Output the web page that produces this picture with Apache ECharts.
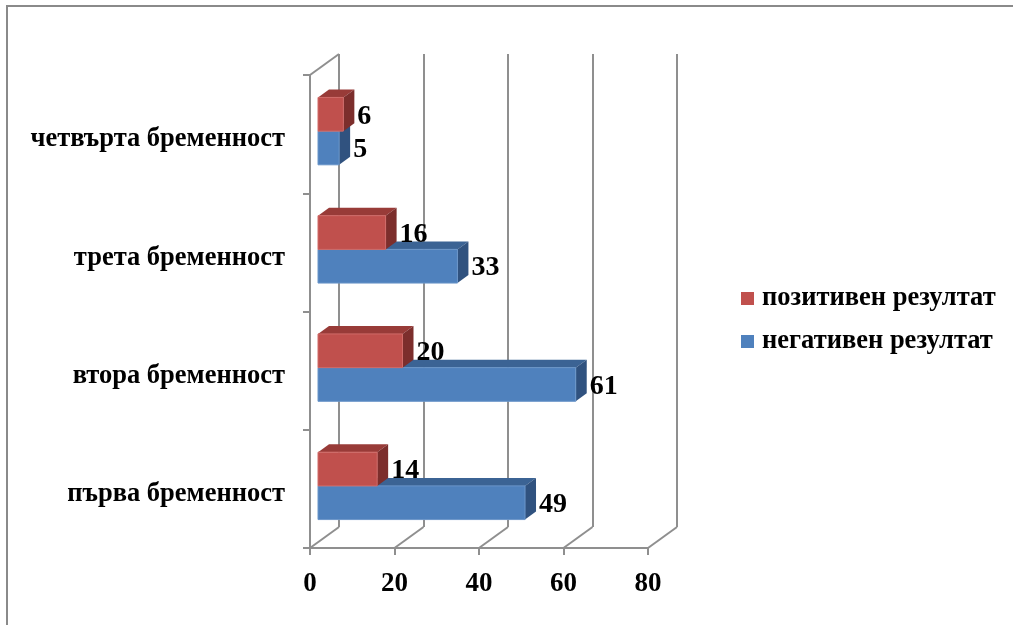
<!DOCTYPE html>
<html>
<head>
<meta charset="utf-8">
<script src="https://cdn.jsdelivr.net/npm/echarts@6/dist/echarts.min.js"></script>
<style>
  html, body { margin: 0; padding: 0; background: #fff; }
  #chart { width: 1013px; height: 625px; }
</style>
</head>
<body>
<div id="chart"></div>
<script>
// Pregnancy order (bottom to top) and test outcomes
const categories = ['първа бременност', 'втора бременност', 'трета бременност', 'четвърта бременност'];
const negativeValues = [49, 61, 33, 5];
const positiveValues = [14, 20, 16, 6];
const seriesNames = ['негативен резултат', 'позитивен резултат'];
const axisMin = 0, axisMax = 80, axisStep = 20;

// pseudo-3D geometry (pixels)
const WALL = { dx: 29, dy: -21 };   // depth from front floor edge to back wall
const BAR_SHIFT = { dx: 8, dy: -3 }; // front face of bars sits slightly inside the box
const BAR_DEPTH = { dx: 11, dy: -8 };
const BAR_RATIO = 0.285;
const FONT = '"Liberation Serif", "Times New Roman", serif';
const GRID_COLOR = '#8f8f8f';

const tickValues = [];
for (let v = axisMin; v <= axisMax; v += axisStep) tickValues.push(v);

function barRenderer(slot, colors) {
  return function (params, api) {
    const v = api.value(0), c = api.value(1);
    const base = api.coord([0, c]);
    const end = api.coord([v, c]);
    const band = api.size([0, 1])[1];
    const h = band * BAR_RATIO;
    const cy = base[1] + BAR_SHIFT.dy;
    const y0 = slot === 0 ? cy : cy - h;
    const x0 = base[0] + BAR_SHIFT.dx;
    const x1 = end[0] + BAR_SHIFT.dx;
    const dx = BAR_DEPTH.dx, dy = BAR_DEPTH.dy;
    return {
      type: 'group',
      children: [
        { type: 'polygon', shape: { points: [[x0, y0], [x1, y0], [x1 + dx, y0 + dy], [x0 + dx, y0 + dy]] },
          style: { fill: colors.top } },
        { type: 'polygon', shape: { points: [[x1, y0], [x1 + dx, y0 + dy], [x1 + dx, y0 + dy + h], [x1, y0 + h]] },
          style: { fill: colors.side } },
        { type: 'rect', shape: { x: x0, y: y0, width: x1 - x0, height: h },
          style: { fill: colors.front, stroke: colors.edge, lineWidth: 1 } },
        { type: 'text', x: x1 + dx + 3, y: y0 + h / 2 + 2,
          style: { text: String(v), fill: '#000', font: 'bold 28px ' + FONT,
                   textAlign: 'left', textVerticalAlign: 'middle' } }
      ]
    };
  };
}

function boxRenderer(params, api) {
  const v = api.value(0);
  const band = api.size([0, 1])[1];
  const p = api.coord([v, 0]);
  const bottom = p[1] + band / 2;
  const children = [
    { type: 'line', shape: { x1: p[0], y1: bottom, x2: p[0] + WALL.dx, y2: bottom + WALL.dy },
      style: { stroke: GRID_COLOR, lineWidth: 2 } }
  ];
  if (v === axisMin) {
    const topY = api.coord([v, categories.length - 1])[1] - band / 2;
    children.push({ type: 'line', shape: { x1: p[0], y1: topY, x2: p[0] + WALL.dx, y2: topY + WALL.dy },
      style: { stroke: GRID_COLOR, lineWidth: 2 } });
  }
  return { type: 'group', children: children };
}

const FRONT = { left: 310, top: 75, width: 338, height: 473 };

const chart = echarts.init(document.getElementById('chart'), null, { renderer: 'canvas' });
chart.setOption({
  backgroundColor: '#fff',
  animation: false,
  graphic: [
    { type: 'polyline', shape: { points: [[7, 640], [7, 6], [1030, 6]] },
      style: { stroke: '#8a8a8a', lineWidth: 2, fill: null } }
  ],
  legend: {
    orient: 'vertical',
    left: 741, top: 285,
    padding: 0,
    itemWidth: 13, itemHeight: 13, itemGap: 16,
    icon: 'rect',
    data: [seriesNames[1], seriesNames[0]],
    textStyle: { fontFamily: FONT, fontWeight: 'bold', fontSize: 26.5, color: '#000', padding: [2, 0, 0, 3] }
  },
  grid: [
    { left: FRONT.left + WALL.dx, top: FRONT.top + WALL.dy, width: FRONT.width, height: FRONT.height },
    { left: FRONT.left, top: FRONT.top, width: FRONT.width, height: FRONT.height }
  ],
  xAxis: [
    { gridIndex: 0, type: 'value', min: axisMin, max: axisMax, interval: axisStep,
      axisLine: { show: false }, axisTick: { show: false }, axisLabel: { show: false },
      splitLine: { show: true, lineStyle: { color: GRID_COLOR, width: 2 } } },
    { gridIndex: 1, type: 'value', min: axisMin, max: axisMax, interval: axisStep,
      axisLine: { show: true, lineStyle: { color: GRID_COLOR, width: 2 } },
      axisTick: { show: true, length: 7, lineStyle: { color: GRID_COLOR, width: 2 } },
      splitLine: { show: false },
      axisLabel: { margin: 23, color: '#000', fontFamily: FONT, fontWeight: 'bold', fontSize: 27 } }
  ],
  yAxis: [
    { gridIndex: 0, type: 'category', data: categories, show: false },
    { gridIndex: 1, type: 'category', data: categories,
      axisLine: { show: true, lineStyle: { color: GRID_COLOR, width: 2 } },
      axisTick: { show: true, length: 7, lineStyle: { color: GRID_COLOR, width: 2 } },
      axisLabel: { margin: 25, color: '#000', fontFamily: FONT, fontWeight: 'bold', fontSize: 26.5,
                   verticalAlign: 'top', lineHeight: 11 } }
  ],
  series: [
    { type: 'custom', name: 'box', xAxisIndex: 1, yAxisIndex: 1, silent: true,
      renderItem: boxRenderer, data: tickValues.map(v => [v, 0]), encode: { x: 0, y: 1 } },
    { type: 'custom', name: seriesNames[0], xAxisIndex: 1, yAxisIndex: 1, clip: false,
      itemStyle: { color: '#4f81bd' },
      renderItem: barRenderer(0, { front: '#4f81bd', top: '#3b6394', side: '#30527f', edge: '#6b96c9' }),
      data: negativeValues.map((v, i) => [v, i]), encode: { x: 0, y: 1 } },
    { type: 'custom', name: seriesNames[1], xAxisIndex: 1, yAxisIndex: 1, clip: false,
      itemStyle: { color: '#c0504d' },
      renderItem: barRenderer(1, { front: '#c0504d', top: '#983b38', side: '#7c2e2c', edge: '#d06b68' }),
      data: positiveValues.map((v, i) => [v, i]), encode: { x: 0, y: 1 } }
  ]
});
</script>
</body>
</html>
